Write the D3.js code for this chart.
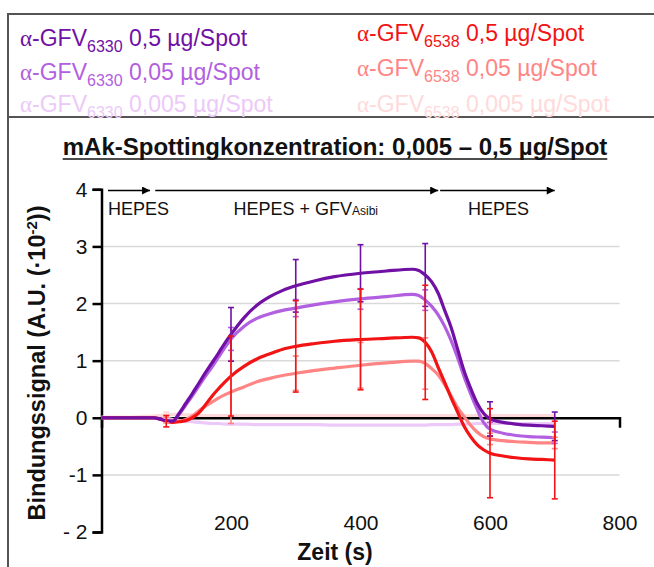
<!DOCTYPE html>
<html><head><meta charset="utf-8">
<script src="https://cdn.jsdelivr.net/npm/d3@7"></script>
<style>body{margin:0;background:#fff}svg{display:block;font-family:Arial,"Liberation Sans",sans-serif}</style>
</head><body><svg id="c" width="654" height="567"></svg>
<script>
// ---- data ----
const times = [0,20,40,60,80,90,100,110,120,130,140,150,160,170,180,190,200,220,240,260,280,300,330,360,400,440,480,490,500,510,520,530,540,550,560,570,580,590,600,620,640,660,680,700];
const sig6330_05   = [0,0,0,0,0,-0.02,-0.05,-0.06,0.08,0.25,0.42,0.6,0.78,0.95,1.12,1.3,1.46,1.75,1.97,2.12,2.23,2.31,2.4,2.47,2.53,2.57,2.6,2.58,2.5,2.38,2.18,1.88,1.58,1.2,0.82,0.52,0.26,0.08,-0.02,-0.08,-0.11,-0.13,-0.14,-0.15];
const sig6330_005  = [0,0,0,0,0,-0.02,-0.05,-0.06,0.06,0.22,0.38,0.55,0.72,0.88,1.05,1.22,1.38,1.6,1.74,1.82,1.88,1.92,1.98,2.03,2.08,2.12,2.16,2.14,2.06,1.95,1.8,1.6,1.35,1.05,0.72,0.42,0.15,-0.08,-0.2,-0.27,-0.31,-0.33,-0.34,-0.35];
const sig6330_0005 = [0,0,0,0,0,0,-0.01,-0.03,-0.05,-0.06,-0.07,-0.08,-0.09,-0.1,-0.1,-0.11,-0.11,-0.11,-0.12,-0.12,-0.12,-0.12,-0.12,-0.13,-0.13,-0.13,-0.13,-0.13,-0.13,-0.12,-0.12,-0.12,-0.12,-0.11,-0.11,-0.11,-0.1,-0.1,-0.1,-0.1,-0.1,-0.1,-0.1,-0.1];
const sig6538_05   = [0,0,0,0,0,-0.02,-0.06,-0.08,-0.07,-0.05,0,0.08,0.22,0.37,0.5,0.62,0.73,0.9,1.03,1.12,1.2,1.25,1.3,1.34,1.37,1.39,1.41,1.4,1.32,1.15,0.88,0.62,0.35,0.1,-0.15,-0.33,-0.47,-0.56,-0.62,-0.67,-0.7,-0.72,-0.73,-0.74];
const sig6538_005  = [0,0,0,0,0,-0.02,-0.04,-0.05,-0.06,-0.03,0.03,0.12,0.2,0.27,0.34,0.4,0.45,0.54,0.63,0.69,0.74,0.78,0.83,0.87,0.92,0.96,0.99,0.99,0.95,0.86,0.75,0.58,0.38,0.18,0.02,-0.13,-0.25,-0.33,-0.37,-0.4,-0.42,-0.43,-0.44,-0.44];
const sig6538_0005 = [0.01,0.01,0.01,0.02,0.03,0.04,0.05,0.06,0.06,0.05,0.05,0.04,0.04,0.04,0.04,0.04,0.04,0.04,0.04,0.04,0.04,0.04,0.04,0.04,0.04,0.04,0.04,0.04,0.04,0.04,0.04,0.04,0.04,0.04,0.04,0.04,0.04,0.04,0.04,0.04,0.04,0.04,0.04,0.04];

const errTimes      = [100,200,300,400,500,600,700];
const err6330_05    = [0,0.47,0.46,0.5,0.55,0.3,0.25];
const err6330_005   = [0,0.2,0.15,0.18,0.18,0.12,0.1];
const err6330_0005  = [0,0,0,0,0,0,0];
const err6538_05    = [0.1,0.7,0.8,0.88,1.0,0.78,0.68];
const err6538_005   = [0.05,0.55,0.3,0.4,0.45,0.1,0.1];
const err6538_0005  = [0.05,0,0,0,0,0,0];

const antibodies = ["6330","6330","6330","6538","6538","6538"];
const concs      = ["0,5","0,05","0,005","0,5","0,05","0,005"];
const colors     = ["#7010a4","#b25fe0","#ecc9f8","#f21414","#ff8585","#ffdada"];
const seriesVals = [sig6330_05,sig6330_005,sig6330_0005,sig6538_05,sig6538_005,sig6538_0005];
const seriesErr  = [err6330_05,err6330_005,err6330_0005,err6538_05,err6538_005,err6538_0005];
const drawOrder  = [2,5,4,1,3,0];

const yTicks = [-2,-1,0,1,2,3,4];
const yTickLabels = ["- 2","-1","0","1","2","3","4"];
const xTicks = [200,400,600,800];
const gridVals = [-1,0,1,2,3];
const phaseStart = [10,83,523];
const phaseEnd   = [75,520,700];
const title = "mAk-Spottingkonzentration: 0,005 – 0,5 µg/Spot";

// ---- scales ----
const svg = d3.select("#c");
const x = d3.scaleLinear().domain([0,800]).range([101.5,619.5]);
const y = d3.scaleLinear().domain([-2,4]).range([532,189.3]);

// frame
svg.append("rect").attr("x",8).attr("y",14).attr("width",700).attr("height",600)
  .attr("fill","none").attr("stroke","#555").attr("stroke-width",2);
svg.append("line").attr("x1",8).attr("x2",660).attr("y1",117).attr("y2",117)
  .attr("stroke","#555").attr("stroke-width",2);

// legend
const legX = [20,20,20,357,357,357];
const legY = [46,80,112,41,76,112];
for (let i=0;i<6;i++){
  const t = svg.append("text").attr("x",legX[i]).attr("y",legY[i])
    .attr("fill",colors[i]).style("font-size","23px");
  t.append("tspan").style("font-family","'Liberation Serif','DejaVu Serif',serif").text("α");
  t.append("tspan").text("-GFV");
  t.append("tspan").attr("dy",6).style("font-size","16px").text(antibodies[i]);
  t.append("tspan").attr("dy",-6).text(" "+concs[i]+" µg/Spot");
}

// title
const tt = svg.append("text").attr("x",335).attr("y",155).attr("text-anchor","middle")
  .style("font-size","24px").style("font-weight","bold").attr("fill","#111").text(title);
const tw = tt.node().getComputedTextLength();
svg.append("line").attr("x1",335-tw/2).attr("x2",335+tw/2).attr("y1",159).attr("y2",159)
  .attr("stroke","#111").attr("stroke-width",1.6);

// grid
svg.append("g").selectAll("line").data(gridVals).join("line")
  .attr("x1",x(0)).attr("x2",x(800)).attr("y1",d=>y(d)).attr("y2",d=>y(d))
  .attr("stroke","#d9d9d9").attr("stroke-width",1.5);

// x axis (at y=0)
const gx = svg.append("g").attr("transform",`translate(0,${y(0)})`)
  .call(d3.axisBottom(x).tickValues([]).tickSizeOuter(10));
gx.select(".domain").attr("stroke","#000").attr("stroke-width",2.5);

// x tick labels at bottom
const gxl = svg.append("g").attr("transform","translate(0,509)")
  .call(d3.axisBottom(x).tickValues(xTicks).tickSize(0).tickPadding(6));
gxl.select(".domain").remove();
gxl.selectAll("text").style("font-size","21px").style("font-family","Arial,'Liberation Sans',sans-serif").attr("fill","#111");

// y axis
const gy = svg.append("g").attr("transform",`translate(${x(0)},0)`)
  .call(d3.axisLeft(y).tickValues(yTicks).tickFormat((d,i)=>yTickLabels[i]).tickSize(9).tickSizeOuter(9).tickPadding(5));
gy.select(".domain").attr("stroke","#000").attr("stroke-width",2.5);
gy.selectAll(".tick line").attr("stroke","#000").attr("stroke-width",2.5);
gy.selectAll("text").style("font-size","21px").style("font-family","Arial,'Liberation Sans',sans-serif").attr("fill","#111");

// axis labels
svg.append("text").attr("x",335).attr("y",560).attr("text-anchor","middle")
  .style("font-size","23px").style("font-weight","bold").attr("fill","#111").text("Zeit (s)");
const yl = svg.append("text").attr("transform","translate(45,363) rotate(-90)").attr("text-anchor","middle")
  .style("font-size","23.5px").style("font-weight","bold").attr("fill","#111");
yl.append("tspan").text("Bindungssignal (A.U. (·10");
yl.append("tspan").attr("dy",-8).style("font-size","15px").text("-2");
yl.append("tspan").attr("dy",8).text("))");

// lines
const line = d3.line().x(d=>x(d[0])).y(d=>y(d[1])).curve(d3.curveMonotoneX);
drawOrder.forEach(i=>{
  svg.append("path").datum(times.map((t,k)=>[t,seriesVals[i][k]]))
    .attr("d",line).attr("fill","none").attr("stroke",colors[i]).attr("stroke-width",3.2);
});

// error bars
[2,5,4,1,0,3].forEach(i=>{
  const g = svg.append("g").attr("stroke",colors[i]).attr("stroke-width",1.6);
  errTimes.forEach((t,k)=>{
    const e = seriesErr[i][k]; if(!e) return;
    const m = seriesVals[i][times.indexOf(t)];
    g.append("line").attr("x1",x(t)).attr("x2",x(t)).attr("y1",y(m+e)).attr("y2",y(m-e));
    [m+e,m-e].forEach(v=>g.append("line").attr("x1",x(t)-3).attr("x2",x(t)+3).attr("y1",y(v)).attr("y2",y(v)));
  });
});

// phase arrows
const defs = svg.append("defs");
defs.append("marker").attr("id","ah").attr("viewBox","0 0 10 10").attr("refX",10).attr("refY",5)
  .attr("markerWidth",10).attr("markerHeight",8).attr("markerUnits","userSpaceOnUse").attr("orient","auto")
  .append("path").attr("d","M0,0L10,5L0,10Z").attr("fill","#000");
phaseStart.forEach((s,i)=>{
  svg.append("line").attr("x1",x(s)).attr("x2",x(phaseEnd[i])).attr("y1",190.5).attr("y2",190.5)
    .attr("stroke","#000").attr("stroke-width",1.3).attr("marker-end","url(#ah)");
});
svg.append("text").attr("x",x(phaseStart[0])).attr("y",215).style("font-size","18px").attr("fill","#111").text("HEPES");
const mid = svg.append("text").attr("x",x((phaseStart[1]+phaseEnd[1])/2)+9).attr("y",215).attr("text-anchor","middle")
  .style("font-size","18px").attr("fill","#111");
mid.append("tspan").text("HEPES + GFV");
mid.append("tspan").style("font-size","12px").text("Asibi");
svg.append("text").attr("x",x((phaseStart[2]+phaseEnd[2])/2)+1).attr("y",215).attr("text-anchor","middle")
  .style("font-size","18px").attr("fill","#111").text("HEPES");
</script></body></html>
